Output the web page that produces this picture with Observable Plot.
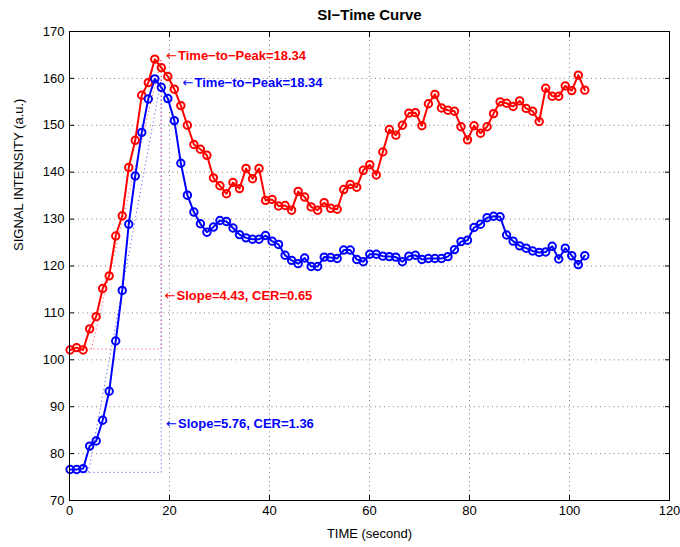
<!DOCTYPE html>
<html><head><meta charset="utf-8">
<script src="https://cdn.jsdelivr.net/npm/d3@7"></script>
<script src="https://cdn.jsdelivr.net/npm/@observablehq/plot@0.6"></script>
<style>body{margin:0;background:#fff}#chart svg{display:block}</style>
</head><body><div id="chart"></div>
<script>
// Signal intensity (a.u.)
const redSI = [102.1,102.6,102.1,106.6,109.2,115.2,117.9,126.4,130.7,141.0,
  146.8,156.4,159.1,164.1,162.3,160.4,157.7,154.2,150.0,145.9,
  144.9,143.6,138.8,137.1,135.4,137.8,136.5,140.8,138.6,140.8,
  134.0,134.2,132.8,132.9,131.9,135.9,134.7,132.6,131.9,133.5,
  132.3,132.1,136.3,137.4,136.8,140.4,141.6,139.4,144.3,149.1,
  147.9,150.0,152.6,152.7,149.9,154.6,156.6,153.7,153.2,153.0,
  149.7,146.9,149.9,148.3,149.7,152.5,155.0,154.7,154.0,155.2,
  153.6,153.0,150.8,157.9,156.2,156.2,158.4,157.4,160.7,157.5];
const blueSI = [76.6,76.6,76.8,81.6,82.7,87.1,93.3,104.0,114.8,128.9,
  139.2,148.5,155.6,159.9,158.1,155.7,151.0,141.9,135.1,131.5,
  129.0,127.2,128.3,129.7,129.5,128.1,126.7,126.0,125.7,125.7,
  126.5,125.3,124.6,122.3,121.2,120.5,121.7,119.9,119.9,121.9,
  121.8,121.6,123.4,123.4,121.4,120.9,122.5,122.5,122.1,122.0,
  121.9,120.9,122.1,122.3,121.4,121.6,121.6,121.6,122.0,123.5,
  125.2,125.5,128.2,128.9,130.3,130.6,130.5,126.6,125.3,124.3,
  123.8,123.2,122.9,123.0,124.2,121.5,123.8,122.2,120.3,122.2];
const SAMPLE_INTERVAL = 1.303; // seconds between frames
const START_TIME = 0.12;

const xTicks = [0, 20, 40, 60, 80, 100, 120];
const yTicks = [70, 80, 90, 100, 110, 120, 130, 140, 150, 160, 170];

const timeToPeak = 18.34;
const redBase = 102.3, redPeak = 164.1, redSlope = 4.43;
const blueBase = 76.0, bluePeak = 159.9, blueSlope = 5.76;

const annotations = [
  {t: 19.3, v: 164.8, text: "Time\u2212to\u2212Peak=18.34", color: "#ff0000"},
  {t: 22.6, v: 159.1, text: "Time\u2212to\u2212Peak=18.34", color: "#0000ff"},
  {t: 19.0, v: 113.7, text: "Slope=4.43, CER=0.65", color: "#ff0000"},
  {t: 19.3, v: 86.4, text: "Slope=5.76, CER=1.36", color: "#0000ff"}
];
const ARROW = "\u2190";

const RED = "#ff0000", BLUE = "#0000ff";
const rows = [];
redSI.forEach((v, i) => rows.push({t: START_TIME + i * SAMPLE_INTERVAL, v, s: "red"}));
blueSI.forEach((v, i) => rows.push({t: START_TIME + i * SAMPLE_INTERVAL, v, s: "blue"}));

function guides(base, peak, slope, color) {
  return [
    {x1: 0, y1: base, x2: timeToPeak, y2: base, color},
    {x1: timeToPeak, y1: base, x2: timeToPeak, y2: peak, color},
    {x1: timeToPeak - (peak - base) / slope, y1: base, x2: timeToPeak, y2: peak, color}
  ];
}
const guideLines = [...guides(redBase, redPeak, redSlope, RED), ...guides(blueBase, bluePeak, blueSlope, BLUE)];

const font = "'Liberation Sans', Arial, Helvetica, sans-serif";
const chart = Plot.plot({
  width: 680, height: 547,
  marginLeft: 69, marginRight: 11, marginTop: 31, marginBottom: 47,
  style: {fontFamily: font, fontSize: "13px", background: "#fff", color: "#000"},
  x: {domain: [0, 120], ticks: xTicks},
  y: {domain: [70, 170], ticks: yTicks},
  marks: [
    Plot.gridX(xTicks, {stroke: "#000", strokeOpacity: 0.5, strokeDasharray: "1,3.5"}),
    Plot.gridY(yTicks, {stroke: "#000", strokeOpacity: 0.5, strokeDasharray: "1,3.5"}),
    Plot.link(guideLines, {x1: "x1", y1: "y1", x2: "x2", y2: "y2", stroke: d => d.color, strokeWidth: 1, strokeDasharray: "1,3", strokeOpacity: 0.75}),
    Plot.line(rows, {x: "t", y: "v", z: "s", stroke: d => d.s === "red" ? RED : BLUE, strokeWidth: 2}),
    Plot.dot(rows, {x: "t", y: "v", r: 3.7, stroke: d => d.s === "red" ? RED : BLUE, strokeWidth: 2, fill: "none"}),
    Plot.frame({stroke: "#000", strokeWidth: 1}),
    Plot.axisX(xTicks, {anchor: "bottom", tickSize: -5, tickPadding: 10, label: null, fontSize: 13}),
    Plot.axisX(xTicks, {anchor: "top", tickSize: -5, tickFormat: () => "", label: null}),
    Plot.axisY(yTicks, {anchor: "left", tickSize: -5, tickPadding: 10, label: null, fontSize: 13}),
    Plot.axisY(yTicks, {anchor: "right", tickSize: -5, tickFormat: () => "", label: null}),
    Plot.text(annotations, {x: "t", y: "v", text: () => ARROW, fill: "color", textAnchor: "start", lineAnchor: "middle", fontFamily: "DejaVu Sans", fontWeight: "normal", fontSize: 13, dy: 0}),
    Plot.text(annotations, {x: "t", y: "v", text: "text", fill: "color", textAnchor: "start", lineAnchor: "middle", fontWeight: "bold", fontSize: 13, dx: 12}),
    Plot.text(["SI\u2212Time Curve"], {frameAnchor: "top", dy: -16, lineAnchor: "middle", fontWeight: "bold", fontSize: 15}),
    Plot.text(["TIME (second)"], {frameAnchor: "bottom", dy: 33, lineAnchor: "middle", fontSize: 13}),
    Plot.text(["SIGNAL INTENSITY (a.u.)"], {frameAnchor: "left", dx: -51, dy: -15, rotate: -90, lineAnchor: "middle", fontSize: 13})
  ]
});
document.getElementById("chart").appendChild(chart);
</script>
</body></html>
